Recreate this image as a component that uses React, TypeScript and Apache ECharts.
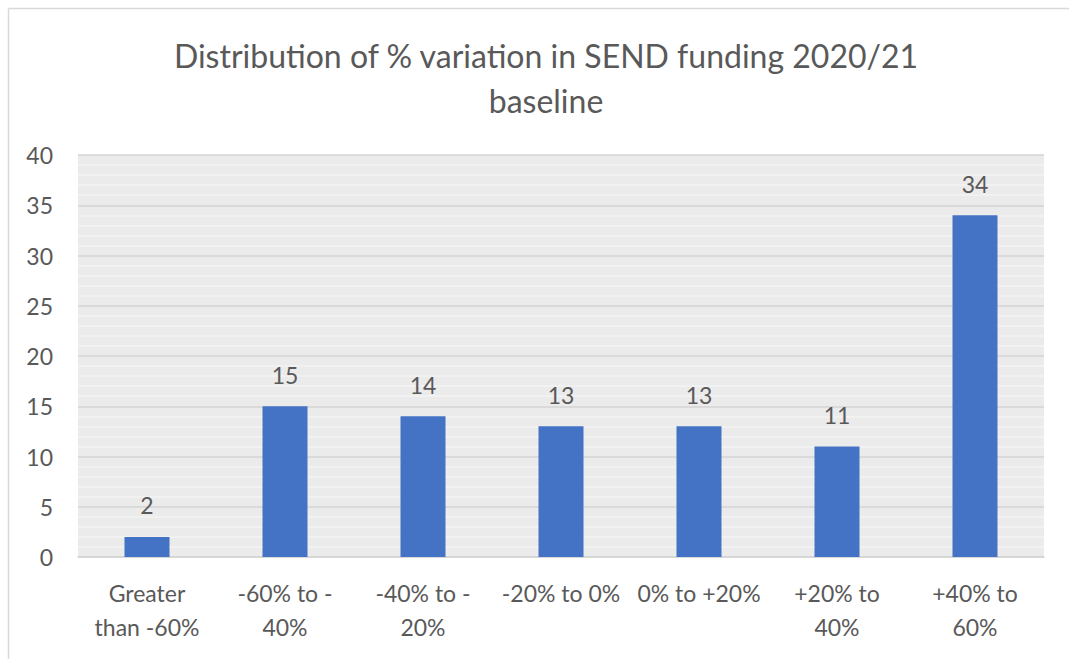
import React, { useEffect, useRef } from "react";
import * as echarts from "echarts";

const categories = [
  "Greater\nthan -60%",
  "-60% to -\n40%",
  "-40% to -\n20%",
  "-20% to 0%",
  "0% to +20%",
  "+20% to\n40%",
  "+40% to\n60%",
];
const values = [2, 15, 14, 13, 13, 11, 34];
const titleLines = ["Distribution of % variation in SEND funding 2020/21", "baseline"];

const FONT = "Lato, 'Noto Sans', sans-serif";
const TEXT = "#595959";

export default function App() {
  const ref = useRef<HTMLDivElement>(null);
  useEffect(() => {
    if (!ref.current) return;
    const chart = echarts.init(ref.current, undefined, { renderer: "svg" });
    chart.setOption({
      animation: false,
      backgroundColor: "#ffffff",
      textStyle: { fontFamily: FONT },
      title: {
        text: titleLines.join("\n"),
        left: 541,
        top: 28,
        textAlign: "center",
        textStyle: {
          fontFamily: FONT,
          fontSize: 32,
          fontWeight: "normal",
          color: TEXT,
          lineHeight: 45,
        },
      },
      graphic: [
        {
          type: "line",
          shape: { x1: 8.5, y1: 8.5, x2: 1069, y2: 8.5 },
          style: { stroke: "#d9d9d9", lineWidth: 1.5 },
        },
        {
          type: "line",
          shape: { x1: 8.5, y1: 8.5, x2: 8.5, y2: 659 },
          style: { stroke: "#d9d9d9", lineWidth: 1.5 },
        },
      ],
      grid: {
        left: 78,
        right: 25,
        top: 155,
        bottom: 102,
        show: true,
        backgroundColor: "#ebebeb",
        borderWidth: 0,
      },
      xAxis: {
        type: "category",
        data: categories,
        axisTick: { show: false },
        axisLine: { show: true, lineStyle: { color: "#d4d4d4", width: 1.5 } },
        axisLabel: {
          color: TEXT,
          fontFamily: FONT,
          fontSize: 23,
          lineHeight: 34,
          margin: 19,
          interval: 0,
        },
      },
      yAxis: {
        type: "value",
        min: 0,
        max: 40,
        interval: 5,
        axisLine: { show: false },
        axisTick: { show: false },
        axisLabel: { color: TEXT, fontFamily: FONT, fontSize: 23, margin: 25 },
        splitLine: { show: true, lineStyle: { color: "#d4d4d4", width: 1.5 } },
        minorTick: { show: false, splitNumber: 5 },
        minorSplitLine: { show: true, lineStyle: { color: "#f3f3f3", width: 1.5 } },
      },
      series: [
        {
          type: "bar",
          data: values,
          barWidth: 45,
          itemStyle: { color: "#4472c4" },
          label: {
            show: true,
            position: "top",
            distance: 20,
            color: TEXT,
            fontFamily: FONT,
            fontSize: 23,
          },
        },
      ],
    });
    return () => chart.dispose();
  }, []);
  return (
    <div
      ref={ref}
      style={{ position: "absolute", left: 0, top: 0, width: 1069, height: 659 }}
    />
  );
}
